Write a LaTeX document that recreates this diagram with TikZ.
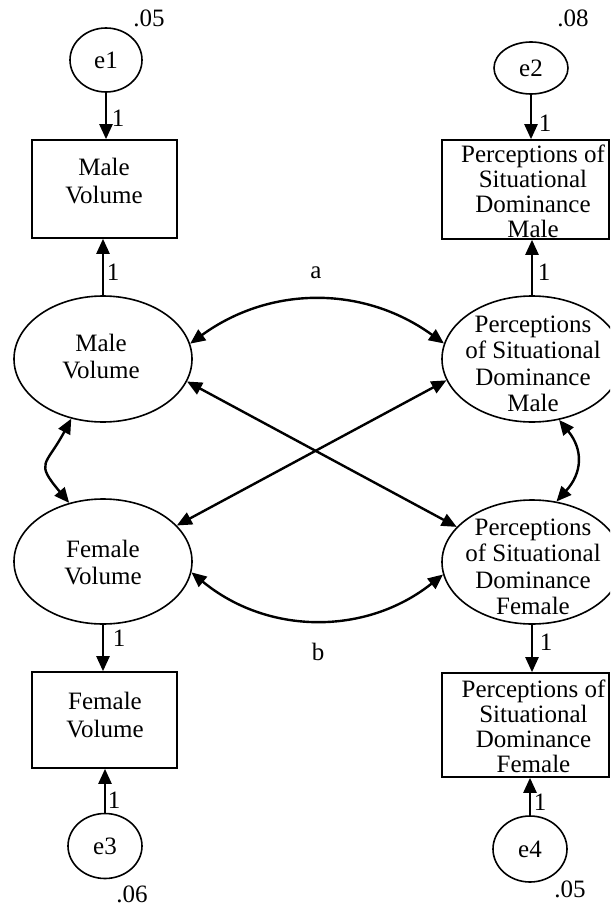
\documentclass[tikz,border=0pt]{standalone}
\usepackage{fontspec}
\setmainfont{Liberation Serif}
\usetikzlibrary{arrows.meta,shapes.geometric}
\begin{document}
\begin{tikzpicture}[x=1pt,y=-1pt,
  shp/.style={draw, line width=1.6pt, inner sep=0pt},
  latent/.style={shp, ellipse},
  obsbox/.style={shp, rectangle},
  txtA/.style={align=center, inner sep=0pt, font=\fontsize{25}{27.5}\selectfont},
  txtB/.style={align=center, inner sep=0pt, font=\fontsize{25}{26.5}\selectfont},
  txtC/.style={align=center, inner sep=0pt, font=\fontsize{25}{25}\selectfont},
  lbl/.style={inner sep=0pt, font=\fontsize{25}{27}\selectfont},
  regr/.style={line width=2.4pt, -{Triangle[length=15pt,width=13pt]}},
  cov/.style={line width=2.4pt, {Triangle[length=15pt,width=13pt]}-{Triangle[length=15pt,width=13pt]}}
]
\useasboundingbox (0,0) rectangle (610,909);
\clip (0,0) rectangle (610,909);

% error terms
\node[latent, minimum width=72pt, minimum height=64pt] (e1) at (106,60) {};
\node[lbl] (e1t) at (e1) {e1};
\node[latent, minimum width=74pt, minimum height=52pt] (e2) at (531,68) {};
\node[lbl] (e2t) at (e2) {e2};
\node[latent, minimum width=74pt, minimum height=65pt] (e3) at (105,846) {};
\node[lbl] (e3t) at (e3) {e3};
\node[latent, minimum width=74pt, minimum height=66pt] (e4) at (530,849) {};
\node[lbl] (e4t) at (e4) {e4};

% observed boxes
\node[obsbox, minimum width=145pt, minimum height=98pt] (mvb) at (104.5,189) {};
\node[txtA] (mvbt) at (104,181) {Male\\Volume};
\node[obsbox, minimum width=167pt, minimum height=99pt] (pmb) at (525.5,189.5) {};
\node[txtC] (pmbt) at (533,191) {Perceptions of\\Situational\\Dominance\\Male};
\node[obsbox, minimum width=145pt, minimum height=96pt] (fvb) at (104.5,720) {};
\node[txtA] (fvbt) at (105,715) {Female\\Volume};
\node[obsbox, minimum width=167pt, minimum height=104pt] (pfb) at (525.5,725) {};
\node[txtC] (pfbt) at (533.5,726) {Perceptions of\\Situational\\Dominance\\Female};

% latent ellipses
\node[latent, minimum width=178pt, minimum height=126pt] (mv) at (103,359) {};
\node[txtA] (mvt) at (101,356.5) {Male\\Volume};
\node[latent, minimum width=180pt, minimum height=126pt] (pm) at (532,359) {};
\node[txtB] (pmt) at (533,364) {Perceptions\\of Situational\\Dominance\\Male};
\node[latent, minimum width=178pt, minimum height=125pt] (fv) at (103,561.5) {};
\node[txtA] (fvt) at (103,562.5) {Female\\Volume};
\node[latent, minimum width=180pt, minimum height=124pt] (pf) at (532,562) {};
\node[txtB] (pft) at (533,567) {Perceptions\\of Situational\\Dominance\\Female};

% regression paths
\draw[regr] (e1.south) -- (e1.south |- mvb.north);
\draw[regr] (mv.north) -- (mv.north |- mvb.south);
\draw[regr] (e2.south) -- (e2.south |- pmb.north);
\draw[regr] (pm.north) -- (pm.north |- pmb.south);
\draw[regr] (fv.south) -- (fv.south |- fvb.north);
\draw[regr] (e3.north) -- (e3.north |- fvb.south);
\draw[regr] (pf.south) -- (pf.south |- pfb.north);
\draw[regr] (e4.north) -- (e4.north |- pfb.south);

% covariances
\draw[cov] (mv.10) to[bend left=36] (pm.170);
\draw[cov] (fv.-7) to[bend right=39] (pf.188);
\draw[cov] (mv.-15) -- (pf.155);
\draw[cov] (fv.26) -- (pm.194);
\draw[cov] (mv.242) to[out=242,in=130,looseness=1.64] (fv.120);
\draw[cov] (pm.-66) to[out=-51,in=48,looseness=1.21] (pf.68);

% labels
\node[lbl] (v1) at (149,18) {.05};
\node[lbl] (v2) at (573,18) {.08};
\node[lbl] (v3) at (132,894) {.06};
\node[lbl] (v4) at (570,889) {.05};
\node[lbl] (la) at (316,273) {a};
\node[lbl] (lb) at (318,652) {b};
\node[lbl] (o1) at (118,118) {1};
\node[lbl] (o2) at (113,272) {1};
\node[lbl] (o3) at (545,123) {1};
\node[lbl] (o4) at (544,272) {1};
\node[lbl] (o5) at (119,638) {1};
\node[lbl] (o6) at (114,800) {1};
\node[lbl] (o7) at (546,642) {1};
\node[lbl] (o8) at (540,802) {1};
\end{tikzpicture}
\end{document}
